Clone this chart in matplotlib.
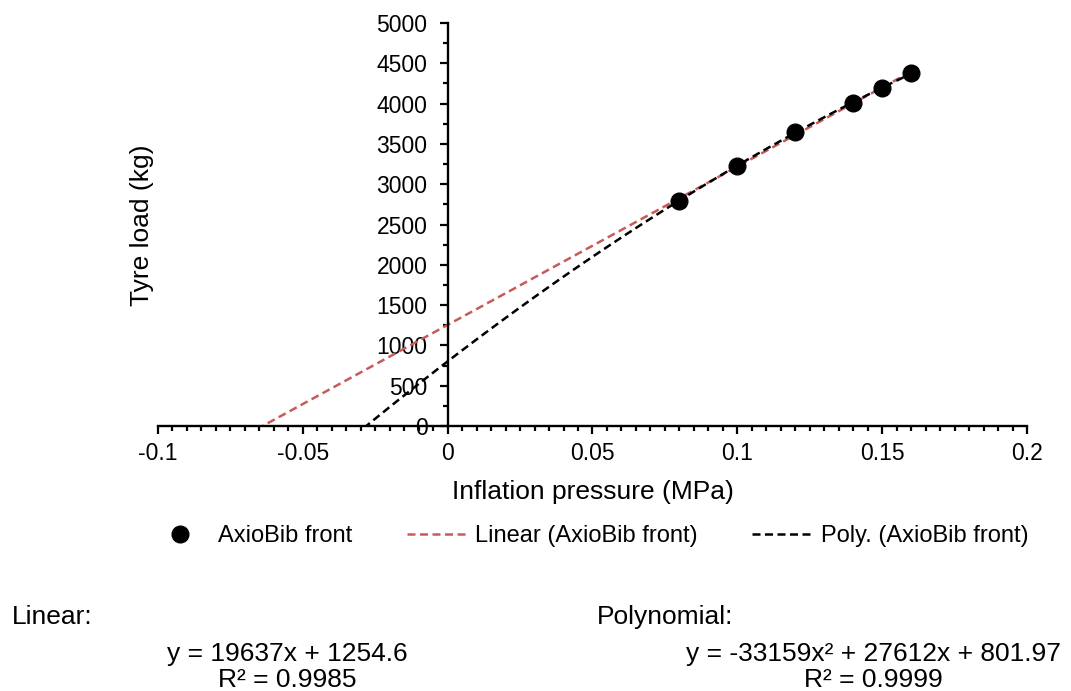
import numpy as np
import matplotlib
matplotlib.use("Agg")
import matplotlib.pyplot as plt
from matplotlib.ticker import MultipleLocator, FuncFormatter

plt.rcParams['font.family'] = ['Liberation Sans', 'DejaVu Sans']
plt.rcParams['axes.unicode_minus'] = False

# data
pressure = [0.08, 0.10, 0.12, 0.14, 0.15, 0.16]
load = [2790, 3225, 3650, 4005, 4195, 4380]

# Excel trendline coefficients (highest power first)
lin_coef = [19637, 1254.6]
poly_coef = [-33159, 27612, 801.97]
lin_r2 = 0.9985
poly_r2 = 0.9999

series_name = "AxioBib front"
red = '#C75B58'

fig = plt.figure(figsize=(10.71, 6.91), dpi=100)
ax = fig.add_axes([158/1071, 1-426/691, 869/1071, 403/691])

# trendlines, forecast backward to -0.1
xs = np.linspace(-0.1, max(pressure), 400)
ax.plot(xs, np.polyval(lin_coef, xs), color=red, lw=1.8, ls=(0, (3.2, 1.8)),
        label="Linear (%s)" % series_name, zorder=2)
ax.plot(xs, np.polyval(poly_coef, xs), color='black', lw=1.8, ls=(0, (3.2, 1.8)),
        label="Poly. (%s)" % series_name, zorder=3)
ax.plot(pressure, load, 'o', color='black', ms=12, label=series_name, zorder=4)

ax.set_xlim(-0.1, 0.2)
ax.set_ylim(0, 5000)

for s in ['top', 'right']:
    ax.spines[s].set_visible(False)
ax.spines['left'].set_position(('data', 0))
ax.spines['bottom'].set_position(('data', 0))
ax.spines['left'].set_linewidth(1.7)
ax.spines['bottom'].set_linewidth(1.7)

ax.xaxis.set_major_locator(MultipleLocator(0.05))
ax.xaxis.set_minor_locator(MultipleLocator(0.005))
ax.yaxis.set_major_locator(MultipleLocator(500))
ax.yaxis.set_minor_locator(MultipleLocator(250))
ax.xaxis.set_major_formatter(FuncFormatter(lambda v, p: '%g' % round(v, 3)))
ax.yaxis.set_major_formatter(FuncFormatter(lambda v, p: '%d' % v))

ax.tick_params(which='major', direction='out', length=5.5, width=1.6, labelsize=16.5)
ax.tick_params(which='minor', direction='out', length=3.5, width=1.6)
ax.tick_params(axis='y', which='major', pad=9)
ax.tick_params(axis='x', which='major', pad=6)

fig.text(142/1071, 1-225/691, "Tyre load (kg)", rotation=90, ha='center', va='center', fontsize=19)
fig.text(593/1071, 1-492/691, "Inflation pressure (MPa)", ha='center', va='center', fontsize=19)

h, l = ax.get_legend_handles_labels()
order = [2, 0, 1]
fig.legend([h[i] for i in order], [l[i] for i in order], loc='center',
           bbox_to_anchor=(589/1071, 1-536/691), ncol=3, frameon=False,
           fontsize=17, handlelength=2.55, columnspacing=2.3, handletextpad=0.35)

fig.text(12/1071, 1-617/691, "Linear:", ha='left', va='center', fontsize=19)
fig.text(287/1071, 1-654/691, "y = %gx + %g" % (lin_coef[0], lin_coef[1]),
         ha='center', va='center', fontsize=19)
fig.text(287/1071, 1-680/691, "R² = %.4f" % lin_r2, ha='center', va='center', fontsize=19)
fig.text(597/1071, 1-617/691, "Polynomial:", ha='left', va='center', fontsize=19)
fig.text(873/1071, 1-654/691, "y = %gx² + %gx + %g" % tuple(poly_coef),
         ha='center', va='center', fontsize=19)
fig.text(873/1071, 1-680/691, "R² = %.4f" % poly_r2, ha='center', va='center', fontsize=19)

fig.savefig("out.png", dpi=100)
